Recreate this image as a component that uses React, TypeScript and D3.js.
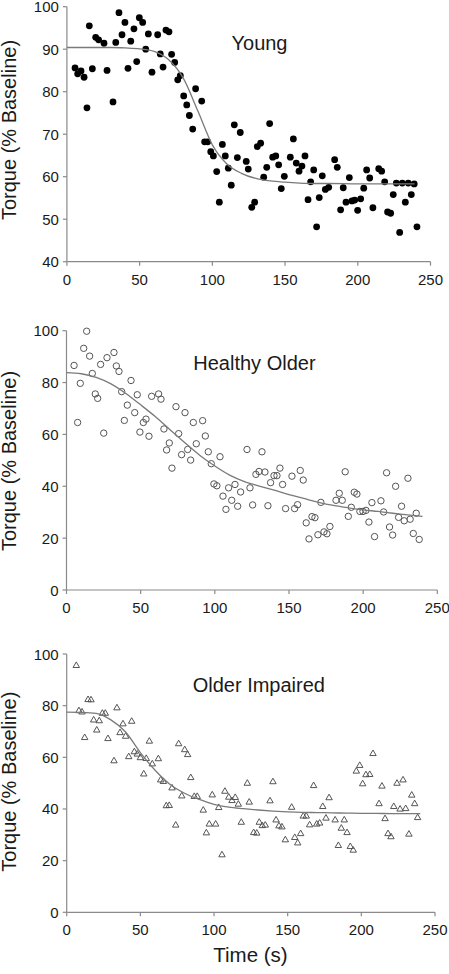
import React from "react";
import * as d3 from "d3";

// ---------- Data ----------
const X_TICKS = [0, 50, 100, 150, 200, 250];
const Y_TICKS_YOUNG = [40, 50, 60, 70, 80, 90, 100];
const Y_TICKS_OLDER = [0, 20, 40, 60, 80, 100];

const YOUNG_POINTS: [number, number][] = [
  [5.6, 85.6], [7.4, 84.2], [9.7, 84.9], [11.8, 83.4], [13.8, 76.2], [15.4, 95.5], [17.5, 85.4],
  [19.8, 92.8], [21.8, 92.2], [25.5, 91.4], [27.6, 85.0], [31.7, 77.6], [33.6, 91.6], [35.8, 98.6],
  [37.9, 93.4], [39.9, 96.3], [42.0, 85.5], [43.9, 91.9], [46.1, 94.8], [48.0, 87.1], [49.8, 97.4],
  [52.1, 96.3], [54.2, 90.0], [56.0, 93.6], [58.5, 84.6], [62.4, 93.4], [64.2, 88.9], [66.1, 85.8],
  [68.1, 94.5], [70.2, 94.1], [72.0, 88.8], [74.1, 86.9], [76.2, 82.8], [78.0, 83.8], [80.3, 79.0],
  [82.4, 76.9], [84.2, 74.4], [86.5, 71.2], [88.5, 80.7], [92.7, 77.8], [94.7, 68.2], [96.8, 68.2],
  [98.9, 65.9], [100.7, 64.9], [103.0, 61.2], [104.8, 54.0], [106.9, 67.6], [108.9, 64.9], [111.0, 62.0],
  [113.0, 58.0], [115.1, 72.2], [117.2, 64.5], [119.2, 70.4], [123.3, 63.6], [124.7, 61.8],
  [127.1, 52.8], [129.1, 54.0], [130.9, 67.1], [133.2, 67.9], [135.3, 59.9], [137.4, 62.2], [139.4, 72.5],
  [141.5, 64.6], [143.6, 64.9], [145.6, 62.8], [147.4, 57.2], [149.5, 60.1], [153.6, 64.6], [155.7, 68.9],
  [157.7, 63.2], [159.6, 61.3], [161.6, 62.5], [163.7, 64.9], [165.8, 54.6], [167.6, 58.8], [169.7, 61.6],
  [171.7, 48.2], [173.5, 55.1], [175.6, 60.2], [177.7, 57.0], [180.0, 57.5], [184.1, 64.0], [185.9, 62.2],
  [188.2, 52.2], [190.0, 57.4], [191.9, 54.0], [194.2, 59.8], [196.0, 54.3], [197.9, 54.5], [199.9, 52.1],
  [202.0, 54.8], [204.1, 57.3], [206.1, 61.6], [208.2, 59.7], [210.4, 52.7], [214.4, 61.9], [216.4, 61.3],
  [218.5, 58.8], [220.5, 51.7], [222.6, 51.4], [224.4, 55.8], [226.5, 58.5], [228.8, 46.9], [230.6, 58.5],
  [232.7, 54.0], [234.7, 58.5], [236.8, 55.8], [238.8, 58.3], [240.7, 48.2],
];

const YOUNG_FIT: [number, number][] = [
  [0, 90.4], [10, 90.4], [20, 90.4], [30, 90.4], [40, 90.3], [50, 90.1], [60, 89.5], [70, 87.5],
  [80, 83.2], [90, 75.5], [100, 67.5], [110, 63.0], [120, 60.8], [130, 59.6], [140, 59.0], [150, 58.7],
  [160, 58.5], [170, 58.4], [180, 58.4], [200, 58.3], [220, 58.3], [239, 58.3],
];

const HEALTHY_POINTS: [number, number][] = [
  [5.1, 86.6], [7.5, 64.6], [9.3, 79.7], [11.6, 93.2], [13.6, 99.8], [15.6, 90.2], [17.4, 83.5],
  [19.4, 75.6], [21.0, 73.9], [23.0, 87.0], [25.1, 60.5], [27.3, 89.6], [32.0, 91.6], [33.6, 86.4],
  [35.4, 84.3], [37.2, 76.5], [39.0, 65.4], [41.0, 71.3], [43.5, 80.8], [46.0, 68.4], [47.7, 75.3],
  [49.5, 60.9], [51.8, 64.6], [53.6, 65.9], [55.6, 59.3], [57.4, 74.7], [62.1, 75.6], [63.7, 73.6],
  [65.7, 62.1], [67.5, 54.0], [69.3, 56.7], [71.1, 47.0], [73.8, 70.7], [75.6, 60.3], [77.6, 52.2],
  [79.9, 68.4], [81.7, 54.2], [83.7, 50.1], [85.5, 64.6], [87.5, 56.4], [91.8, 65.3], [93.6, 59.4],
  [95.6, 53.3], [97.6, 48.7], [99.4, 40.9], [101.4, 40.2], [103.5, 51.4], [105.5, 36.2], [107.5, 31.1],
  [109.3, 39.4], [111.4, 34.6], [113.6, 40.7], [115.4, 32.3], [117.4, 37.8], [121.7, 54.2],
  [123.7, 39.4], [125.5, 32.8], [127.7, 44.6], [129.8, 45.7], [131.8, 53.3], [133.8, 45.5], [135.8, 32.5],
  [137.6, 41.4], [139.9, 44.1], [141.9, 44.1], [143.9, 47.0], [145.7, 40.7], [147.7, 31.4], [152.0, 43.9],
  [153.8, 31.4], [155.8, 32.9], [157.6, 46.1], [159.6, 42.4], [161.6, 25.9], [163.5, 19.7], [165.5, 28.3],
  [167.5, 27.9], [169.5, 21.3], [171.5, 33.8], [173.6, 22.4], [175.6, 21.7], [177.6, 24.5], [181.7, 34.6],
  [183.9, 37.3], [185.9, 34.6], [187.9, 45.6], [190.0, 28.4], [192.0, 31.9], [194.0, 37.7], [195.8, 37.0],
  [197.8, 30.3], [199.9, 30.3], [201.9, 30.7], [203.9, 26.2], [205.9, 33.7], [207.7, 20.6], [212.0, 34.4],
  [213.8, 30.1], [215.8, 45.2], [217.8, 24.3], [219.9, 21.2], [221.9, 40.0], [223.9, 28.0], [225.9, 32.3],
  [227.7, 26.7], [230.2, 43.1], [231.7, 27.3], [233.8, 21.8], [235.8, 29.6], [237.8, 19.5],
];

const HEALTHY_FIT: [number, number][] = [
  [0, 83.8], [10, 83.4], [20, 82.0], [30, 79.5], [40, 75.8], [50, 71.4], [60, 66.8], [70, 61.7],
  [80, 56.7], [90, 51.9], [100, 47.8], [110, 44.3], [120, 41.8], [130, 40.1], [140, 38.5], [150, 36.8],
  [160, 35.3], [170, 33.8], [180, 32.6], [190, 31.7], [200, 30.9], [210, 30.3], [220, 29.6],
  [230, 29.0], [240, 28.4],
];

const IMPAIRED_POINTS: [number, number][] = [
  [6.5, 95.5], [8.3, 78.0], [10.4, 77.5], [12.2, 67.6], [14.5, 82.3], [16.5, 82.2], [18.3, 74.4],
  [20.4, 70.5], [22.1, 74.1], [24.2, 77.0], [26.2, 77.0], [28.0, 67.2], [32.1, 58.6], [34.1, 79.1],
  [36.2, 69.5], [38.2, 72.9], [40.0, 68.1], [42.1, 60.2], [44.1, 73.9], [45.9, 62.1], [47.9, 61.2],
  [50.0, 59.8], [52.3, 53.5], [54.0, 59.5], [56.1, 66.2], [58.1, 57.4], [62.2, 59.4], [63.8, 51.2],
  [65.6, 50.6], [67.6, 41.2], [69.6, 41.3], [71.5, 48.1], [74.0, 33.7], [76.0, 65.2], [78.1, 45.0],
  [80.1, 62.9], [82.1, 61.0], [84.2, 52.1], [86.6, 44.8], [88.6, 44.8], [92.7, 39.5], [94.8, 30.7],
  [96.8, 34.1], [98.8, 45.4], [101.1, 34.1], [103.2, 40.5], [105.4, 22.2], [107.4, 46.8], [110.0, 44.5],
  [112.2, 43.2], [114.4, 44.4], [116.5, 41.8], [118.5, 34.8], [122.6, 49.9], [123.9, 42.6],
  [126.9, 30.8], [129.0, 30.6], [130.7, 34.8], [132.8, 33.5], [134.8, 33.7], [138.0, 43.1], [140.0, 50.5],
  [142.1, 35.7], [144.1, 33.4], [146.1, 33.0], [148.4, 28.0], [152.7, 40.6], [154.8, 28.9], [156.8, 26.8],
  [158.8, 30.4], [160.6, 37.2], [162.6, 37.2], [164.9, 33.8], [167.6, 49.0], [169.7, 34.1], [171.7, 34.5],
  [173.8, 40.9], [176.0, 36.4], [178.1, 44.3], [182.2, 35.7], [184.4, 25.8], [186.4, 32.5], [188.4, 35.7],
  [190.3, 30.8], [192.5, 25.4], [194.5, 24.0], [196.6, 54.6], [198.9, 56.8], [200.9, 49.7], [203.1, 53.2],
  [205.7, 53.3], [207.9, 61.4], [212.0, 42.0], [214.0, 48.8], [216.1, 36.2], [218.1, 30.4], [220.1, 29.2],
  [222.0, 40.9], [224.2, 49.9], [226.3, 39.9], [228.3, 51.2], [230.1, 40.1], [232.3, 30.2], [234.2, 45.3],
  [236.2, 42.0], [238.2, 36.6],
];

const IMPAIRED_FIT: [number, number][] = [
  [0, 77.5], [10, 77.4], [20, 77.0], [30, 74.5], [40, 69.8], [50, 61.8], [60, 55.0], [70, 49.6],
  [80, 46.1], [90, 43.7], [100, 41.8], [110, 40.7], [120, 40.1], [130, 39.6], [140, 39.2], [150, 38.9],
  [160, 38.7], [170, 38.6], [180, 38.5], [190, 38.4], [200, 38.3], [210, 38.3], [220, 38.2],
  [230, 38.2], [240, 38.2],
];

// ---------- Styling ----------
const FONT = "'Liberation Sans', Arial, Helvetica, sans-serif";
const AXIS = "#8a8a8a";
const TEXT = "#1a1a1a";
const FIT = "#7a7a7a";
const MARK = "#555";

type Marker = "dot" | "circle" | "triangle";

interface PanelProps {
  title: string;
  titleX: number;
  titleY: number;
  xRange: [number, number];
  yRange: [number, number]; // bottom, top (pixels)
  yDomain: [number, number];
  yTicks: number[];
  points: [number, number][];
  fit: [number, number][];
  marker: Marker;
  labelCenter: number;
}

function Panel(p: PanelProps) {
  const x = d3.scaleLinear().domain([0, 250]).range(p.xRange);
  const y = d3.scaleLinear().domain(p.yDomain).range(p.yRange);
  const line = d3
    .line<[number, number]>()
    .x((d) => x(d[0]))
    .y((d) => y(d[1]))
    .curve(d3.curveMonotoneX);
  const yb = p.yRange[0];
  const tri = d3.symbol().type(d3.symbolTriangle).size(18)();
  return (
    <g>
      {/* axes */}
      <line x1={p.xRange[0]} x2={p.xRange[1]} y1={yb} y2={yb} stroke={AXIS} strokeWidth={1.2} />
      <line x1={p.xRange[0]} x2={p.xRange[0]} y1={yb} y2={p.yRange[1]} stroke={AXIS} strokeWidth={1.2} />
      {X_TICKS.map((t) => (
        <g key={"x" + t}>
          <line x1={x(t)} x2={x(t)} y1={yb} y2={yb + 4} stroke={AXIS} strokeWidth={1.2} />
          <text x={x(t)} y={yb + 23} textAnchor="middle" fontSize={15} fill={TEXT} fontFamily={FONT}>
            {t}
          </text>
        </g>
      ))}
      {p.yTicks.map((t) => (
        <g key={"y" + t}>
          <line x1={p.xRange[0] - 4} x2={p.xRange[0]} y1={y(t)} y2={y(t)} stroke={AXIS} strokeWidth={1.2} />
          <text x={p.xRange[0] - 8} y={y(t) + 5.5} textAnchor="end" fontSize={15} fill={TEXT} fontFamily={FONT}>
            {t}
          </text>
        </g>
      ))}
      <text
        transform={`translate(16,${p.labelCenter}) rotate(-90)`}
        textAnchor="middle"
        fontSize={20}
        fill={TEXT}
        fontFamily={FONT}
      >
        Torque (% Baseline)
      </text>
      <text x={p.titleX} y={p.titleY} fontSize={20} fill={TEXT} fontFamily={FONT}>
        {p.title}
      </text>
      {/* points */}
      {p.points.map((d, i) => {
        if (p.marker === "dot")
          return <circle key={i} cx={x(d[0])} cy={y(d[1])} r={3.4} fill="#000" />;
        if (p.marker === "circle")
          return (
            <circle key={i} cx={x(d[0])} cy={y(d[1])} r={3.2} fill="none" stroke={MARK} strokeWidth={1} />
          );
        return (
          <path
            key={i}
            d={tri || ""}
            transform={`translate(${x(d[0])},${y(d[1])})`}
            fill="none"
            stroke={MARK}
            strokeWidth={1}
          />
        );
      })}
      <path d={line(p.fit) || ""} fill="none" stroke={FIT} strokeWidth={1.3} />
    </g>
  );
}

export default function App() {
  return (
    <svg
      width={449}
      height={974}
      style={{ position: "absolute", left: 0, top: 0, background: "#fff" }}
    >
      <rect width={449} height={974} fill="#fff" />
      <Panel
        title="Young"
        titleX={231.5}
        titleY={50}
        xRange={[66.9, 430.5]}
        yRange={[261.7, 6.7]}
        yDomain={[40, 100]}
        yTicks={Y_TICKS_YOUNG}
        points={YOUNG_POINTS}
        fit={YOUNG_FIT}
        marker="dot"
        labelCenter={130}
      />
      <Panel
        title="Healthy Older"
        titleX={193.3}
        titleY={370}
        xRange={[66.5, 437.3]}
        yRange={[590, 330.7]}
        yDomain={[0, 100]}
        yTicks={Y_TICKS_OLDER}
        points={HEALTHY_POINTS}
        fit={HEALTHY_FIT}
        marker="circle"
        labelCenter={461}
      />
      <Panel
        title="Older Impaired"
        titleX={192.7}
        titleY={691.7}
        xRange={[66.7, 435]}
        yRange={[912.3, 654]}
        yDomain={[0, 100]}
        yTicks={Y_TICKS_OLDER}
        points={IMPAIRED_POINTS}
        fit={IMPAIRED_FIT}
        marker="triangle"
        labelCenter={781.7}
      />
      <text x={250.5} y={962} textAnchor="middle" fontSize={20.5} fill={TEXT} fontFamily={FONT}>
        Time (s)
      </text>
    </svg>
  );
}
